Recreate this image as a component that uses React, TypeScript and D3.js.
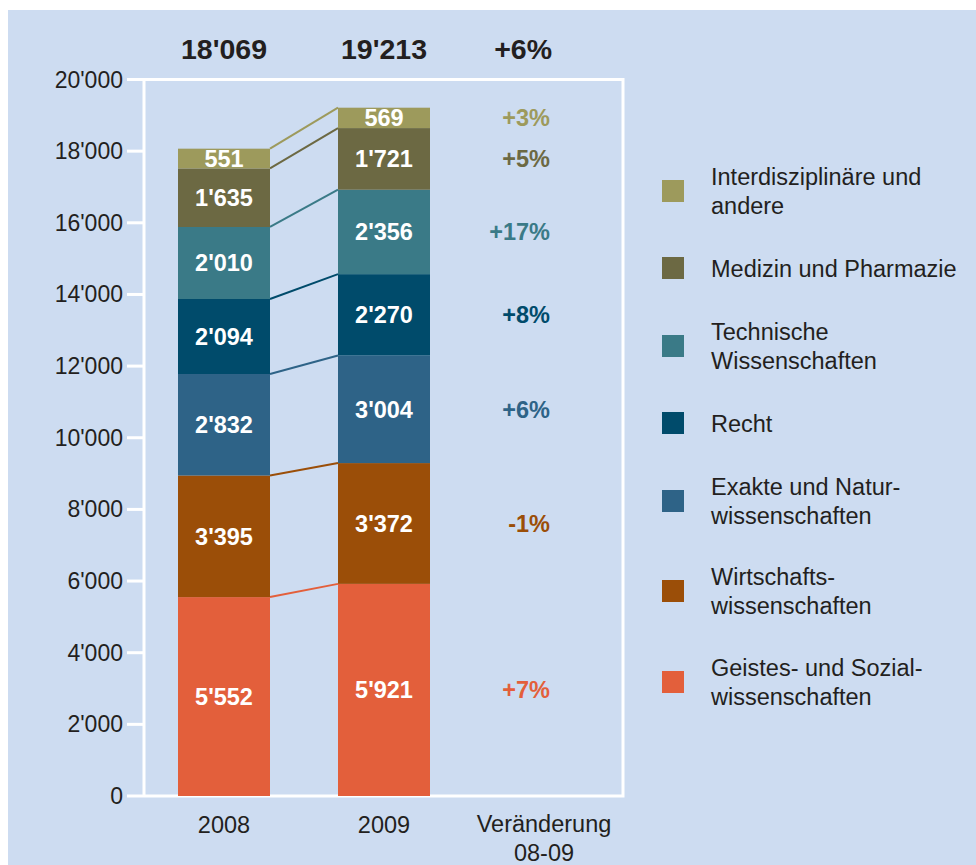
import { useRef, useEffect } from 'react';
import * as d3 from 'd3';

// Studierende nach Fachbereich (stack order: bottom to top)
const years = ['2008', '2009'];
const fields = [
  'Geistes- und Sozialwissenschaften',
  'Wirtschaftswissenschaften',
  'Exakte und Naturwissenschaften',
  'Recht',
  'Technische Wissenschaften',
  'Medizin und Pharmazie',
  'Interdisziplinäre und andere',
];
const values2008 = [5552, 3395, 2832, 2094, 2010, 1635, 551];
const values2009 = [5921, 3372, 3004, 2270, 2356, 1721, 569];
const legendLines = [
  ['Geistes- und Sozial-', 'wissenschaften'],
  ['Wirtschafts-', 'wissenschaften'],
  ['Exakte und Natur-', 'wissenschaften'],
  ['Recht'],
  ['Technische', 'Wissenschaften'],
  ['Medizin und Pharmazie'],
  ['Interdisziplinäre und', 'andere'],
];
const colors = ['#e35f3b', '#9b4e08', '#2e6387', '#004b6b', '#3a7a87', '#6c6943', '#9d9a5c'];
const yTicks = [0, 2000, 4000, 6000, 8000, 10000, 12000, 14000, 16000, 18000, 20000];
const changeLabel = ['Veränderung', '08-09'];

const W = 976;
const H = 865;
const FONT = '"Liberation Sans", Arial, Helvetica, sans-serif';
const TEXT = '#231f20';
const BG = '#cddcf1';

export default function App() {
  const svgRef = useRef<SVGSVGElement>(null);

  useEffect(() => {
    if (!svgRef.current) return;
    const svg = d3.select(svgRef.current);
    svg.selectAll('*').remove();

    const locale = d3.formatLocale({
      decimal: '.',
      thousands: "'",
      grouping: [3],
      currency: ['', ''],
      minus: '-',
    });
    const fmt = locale.format(',d');
    const fmtPct = (v: number) => locale.format('+d')(Math.round(v * 100)) + '%';

    svg.append('rect').attr('width', W).attr('height', H).attr('fill', '#fff');
    svg.append('rect').attr('x', 8).attr('y', 10).attr('width', W - 8).attr('height', H - 10).attr('fill', BG);

    const plot = { left: 144, right: 624, top: 79.5, bottom: 796 };

    const x = d3
      .scaleBand()
      .domain([...years, 'change'])
      .range([plot.left, plot.right])
      .paddingInner(0.425)
      .paddingOuter(0.2125);
    const y = d3.scaleLinear().domain([0, 20000]).range([plot.bottom, plot.top]);

    const rows = years.map((yr, j) => {
      const vals = j === 0 ? values2008 : values2009;
      const r: Record<string, number | string> = { year: yr };
      fields.forEach((f, i) => (r[f] = vals[i]));
      return r;
    });
    const stacked = d3.stack<any>().keys(fields)(rows);

    // frame
    const frame = svg.append('g').attr('stroke', '#fff').attr('stroke-width', 3).attr('fill', 'none');
    frame.append('path').attr(
      'd',
      `M${plot.left},${plot.bottom}V${plot.top}H${plot.right - 1}V${plot.bottom}H${plot.left}`
    );
    // y ticks
    const axis = svg.append('g');
    yTicks.forEach((t) => {
      axis
        .append('line')
        .attr('x1', 127)
        .attr('x2', plot.left)
        .attr('y1', y(t))
        .attr('y2', y(t))
        .attr('stroke', '#fff')
        .attr('stroke-width', 3);
      axis
        .append('text')
        .attr('x', 123)
        .attr('y', y(t) + 8)
        .attr('text-anchor', 'end')
        .attr('font-family', FONT)
        .attr('font-size', 23)
        .attr('fill', TEXT)
        .text(fmt(t));
    });

    const bw = x.bandwidth();
    const x0 = x('2008')!;
    const x1 = x('2009')!;
    const changeRight = x('change')! + bw / 2 + 6;

    // connector lines
    stacked.forEach((s, i) => {
      svg
        .append('line')
        .attr('x1', x0 + bw)
        .attr('y1', y(s[0][1]))
        .attr('x2', x1)
        .attr('y2', y(s[1][1]))
        .attr('stroke', colors[i])
        .attr('stroke-width', 2);
    });

    // bars
    stacked.forEach((s, i) => {
      const g = svg.append('g');
      g.selectAll('rect')
        .data(s)
        .join('rect')
        .attr('x', (d: any) => x(d.data.year)!)
        .attr('width', bw)
        .attr('y', (d) => y(d[1]))
        .attr('height', (d) => y(d[0]) - y(d[1]))
        .attr('fill', colors[i]);
      g.selectAll('text')
        .data(s)
        .join('text')
        .attr('x', (d: any) => x(d.data.year)! + bw / 2)
        .attr('y', (d) => (y(d[0]) + y(d[1])) / 2 + 8.5)
        .attr('text-anchor', 'middle')
        .attr('font-family', FONT)
        .attr('font-size', 23.5)
        .attr('font-weight', 'bold')
        .attr('fill', '#fff')
        .text((d) => fmt(d[1] - d[0]));

      // change label aligned with 2009 segment
      const ch = values2009[i] / values2008[i] - 1;
      svg
        .append('text')
        .attr('x', changeRight)
        .attr('y', (y(s[1][0]) + y(s[1][1])) / 2 + 8.5)
        .attr('text-anchor', 'end')
        .attr('font-family', FONT)
        .attr('font-size', 23.5)
        .attr('font-weight', 'bold')
        .attr('fill', colors[i])
        .text(fmtPct(ch));
    });

    // totals
    const tot2008 = d3.sum(values2008);
    const tot2009 = d3.sum(values2009);
    const totals = [fmt(tot2008), fmt(tot2009), fmtPct(tot2009 / tot2008 - 1)];
    const totX = [x0 + bw / 2, x1 + bw / 2, changeRight + 2];
    totals.forEach((t, k) => {
      svg
        .append('text')
        .attr('x', totX[k])
        .attr('y', 59)
        .attr('text-anchor', k === 2 ? 'end' : 'middle')
        .attr('font-family', FONT)
        .attr('font-size', 28.5)
        .attr('font-weight', 'bold')
        .attr('fill', TEXT)
        .text(t);
    });

    // x labels
    years.forEach((yr) => {
      svg
        .append('text')
        .attr('x', x(yr)! + bw / 2)
        .attr('y', 833)
        .attr('text-anchor', 'middle')
        .attr('font-family', FONT)
        .attr('font-size', 23.5)
        .attr('fill', TEXT)
        .text(yr);
    });
    changeLabel.forEach((l, k) => {
      svg
        .append('text')
        .attr('x', x('change')! + bw / 2)
        .attr('y', 832 + k * 29)
        .attr('text-anchor', 'middle')
        .attr('font-family', FONT)
        .attr('font-size', 23.5)
        .attr('fill', TEXT)
        .text(l);
    });

    // legend (top to bottom = reverse stack order)
    const legendCenters = [682, 591, 501, 423, 346, 268, 191];
    fields.forEach((_, i) => {
      const cy = legendCenters[i];
      svg
        .append('rect')
        .attr('x', 662)
        .attr('y', cy - 11)
        .attr('width', 22)
        .attr('height', 22)
        .attr('fill', colors[i]);
      const lines = legendLines[i];
      lines.forEach((l, k) => {
        svg
          .append('text')
          .attr('x', 711)
          .attr('y', cy + 8.5 + (k - (lines.length - 1) / 2) * 29)
          .attr('font-family', FONT)
          .attr('font-size', 23.5)
          .attr('fill', TEXT)
          .text(l);
      });
    });
  }, []);

  return (
    <svg
      ref={svgRef}
      width={W}
      height={H}
      style={{ position: 'absolute', left: 0, top: 0, display: 'block' }}
    />
  );
}
